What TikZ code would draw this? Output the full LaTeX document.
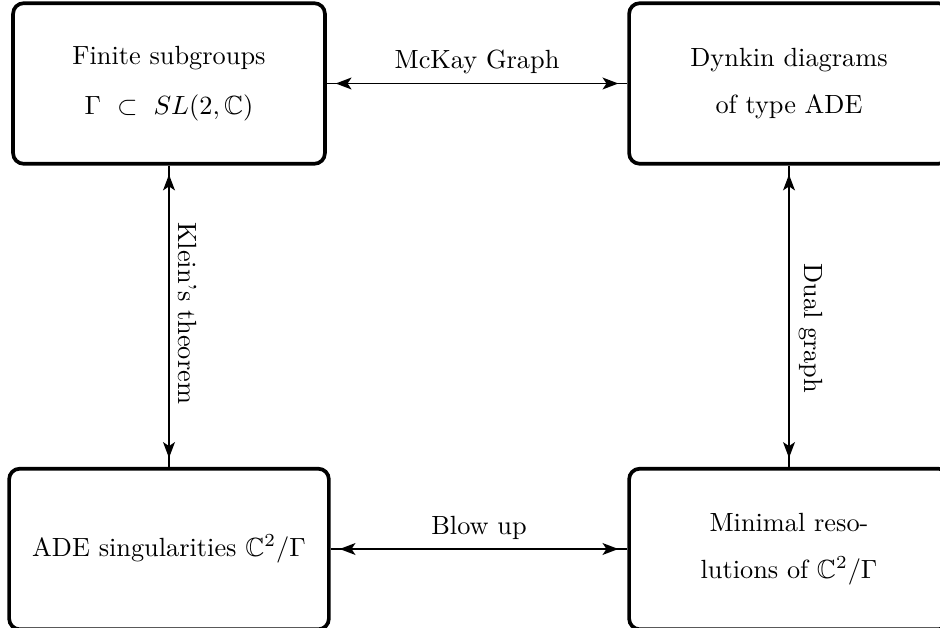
\documentclass[tikz,border=0pt]{standalone}
\usepackage{amsmath}
\usepackage{amssymb}
\usetikzlibrary{arrows.meta}

\begin{document}
\begin{tikzpicture}[x=0.38pt,y=-0.38pt,
  box/.style={draw,line width=1.4pt,rounded corners=4pt,minimum width=121.5pt,minimum height=61pt,align=center},
  link/.style={line width=0.7pt,{Stealth[length=6pt,width=4.5pt,inset=1.5pt]}-{Stealth[length=6pt,width=4.5pt,inset=1.5pt]},
    shorten <=3.4pt,shorten >=3.4pt,preaction={draw,thin,-,shorten <=0pt,shorten >=0pt}}]

  \useasboundingbox (0,0) rectangle (940,628);

  % Finite subgroups
  \node[box,minimum width=118.5pt] (groups) at (169,83.5) {Finite subgroups\\[7pt] $\Gamma\ \subset\ SL(2,\mathbb{C})$};

  % Dynkin diagrams
  \node[box] (dynkin) at (789,83.5) {Dynkin diagrams\\[6pt] of type ADE};

  % ADE singularities
  \node[box] (sing) at (169,549) {ADE singularities $\mathbb{C}^2/\Gamma$};

  % Minimal resolutions
  \node[box] (resol) at (789,549) {Minimal reso-\\[6pt] lutions of $\mathbb{C}^2/\Gamma$};

  % correspondences
  \draw[link] (groups) -- (dynkin) node[midway,above] {McKay Graph};
  \draw[link] (sing) -- (resol) node[midway,above] {Blow up};
  \draw[link] (groups) -- (sing) node[pos=0.49,above,sloped] {Klein's theorem};
  \draw[link] (dynkin) -- (resol) node[pos=0.54,above,sloped] {Dual graph};

\end{tikzpicture}
\end{document}
